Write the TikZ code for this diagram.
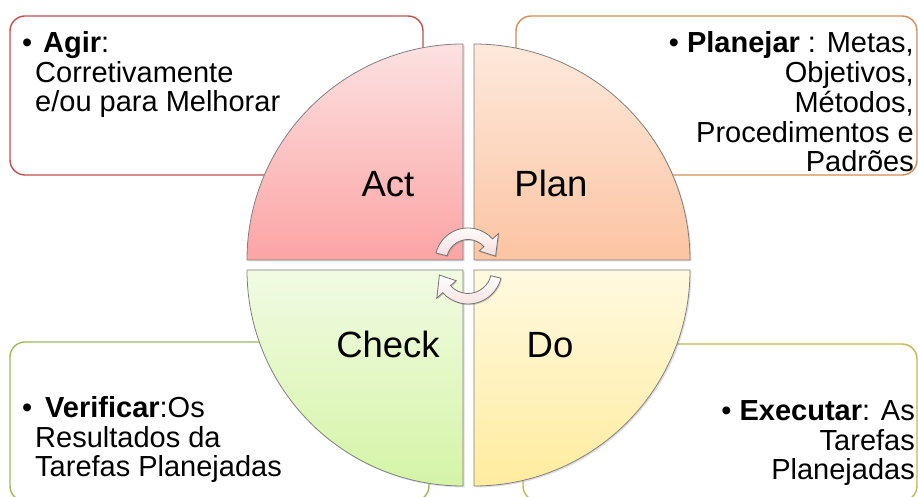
\documentclass[tikz,border=0pt]{standalone}
\usepackage{fontspec}
\setmainfont{Liberation Sans}
\usepackage{tikz}
\usetikzlibrary{shadows}
\definecolor{actred}{HTML}{C0504D}
\definecolor{planor}{HTML}{D48C52}
\definecolor{checkgr}{HTML}{9BBB59}
\definecolor{doyel}{HTML}{C6B64C}
\definecolor{actlt}{HTML}{FCE1E1}
\definecolor{actdk}{HTML}{FCA4A4}
\definecolor{planlt}{HTML}{FDE9DC}
\definecolor{plandk}{HTML}{FCC4A2}
\definecolor{checklt}{HTML}{F1FBE3}
\definecolor{checkdk}{HTML}{D5F4A6}
\definecolor{dolt}{HTML}{FFF9E0}
\definecolor{dodk}{HTML}{FFEC9E}
\definecolor{arrlt}{HTML}{FFFFFF}
\definecolor{arrdk}{HTML}{F6DEDE}
\tikzset{
	box/.style={draw=#1,line width=1.4pt,rounded corners=15pt,fill=white},
	quad/.style 2 args={draw=black!50,line width=.8pt,top color=#1,bottom color=#2,drop shadow={opacity=.25,shadow xshift=1.5pt,shadow yshift=-1.5pt}},
	arr/.style={draw=black!55,line width=.8pt,top color=arrlt,bottom color=arrdk,drop shadow={opacity=.35,shadow xshift=1pt,shadow yshift=-1.2pt}},
	lab/.style={font=\fontsize{36.5}{40}\selectfont,inner sep=0pt,anchor=base},
	txt/.style={font=\fontsize{29}{29.8}\selectfont,inner sep=0pt}
}
\begin{document}
\begin{tikzpicture}[x=1pt,y=1pt]
	\useasboundingbox (0,0) rectangle (918,497);

	\draw[box=actred] (10,322) rectangle (423,481);
	\draw[box=planor] (516,322) rectangle (917,481);
	\draw[box=checkgr] (10,-4) rectangle (429,155);
	\draw[box=doyel] (523,-4) rectangle (917,153);

	\draw[quad={actlt}{actdk}] (463,237) -- (463,453) arc[start angle=90,end angle=180,radius=216] -- cycle;
	\draw[quad={planlt}{plandk}] (474,237) -- (690,237) arc[start angle=0,end angle=90,radius=216] -- cycle;
	\draw[quad={checklt}{checkdk}] (463,227) -- (247,227) arc[start angle=180,end angle=270,radius=216] -- cycle;
	\draw[quad={dolt}{dodk}] (474,227) -- (474,11) arc[start angle=270,end angle=360,radius=216] -- cycle;

	\draw[arr,shift={(468,236)}] (166:33) arc[start angle=166,end angle=42,radius=33] -- (42:41) -- (10:28) -- (42:15) -- (42:21.5) arc[start angle=42,end angle=166,radius=21.5] -- cycle;
	\draw[arr,shift={(468,227)},rotate=180] (166:34) arc[start angle=166,end angle=42,radius=34] -- (42:42) -- (10:29) -- (42:16) -- (42:23.5) arc[start angle=42,end angle=166,radius=23.5] -- cycle;

	\node[lab] (act) at (388,300) {Act};
	\node[lab] (plan) at (551,300) {Plan};
	\node[lab] (check) at (388,139) {Check};
	\node[lab] (do) at (550,139) {Do};

	\node[txt,anchor=base west,align=left] (agir) at (35,385) {\llap{\textbullet\hspace{3pt}}\hspace{8pt}\textbf{Agir}:\\Corretivamente\\e/ou para Melhorar};
	\node[txt,anchor=base east,align=right] (planejar) at (914,325) {\textbullet\ \textbf{Planejar} : Metas,\\Objetivos,\\Métodos,\\Procedimentos e\\Padrões};
	\node[txt,anchor=base west,align=left] (verificar) at (35,20) {\llap{\textbullet\hspace{3pt}}\hspace{10pt}\textbf{Verificar}:Os\\Resultados da\\Tarefas Planejadas};
	\node[txt,anchor=base east,align=right] (executar) at (915,17) {\textbullet\ \textbf{Executar}: As\\Tarefas\\Planejadas};
\end{tikzpicture}
\end{document}
